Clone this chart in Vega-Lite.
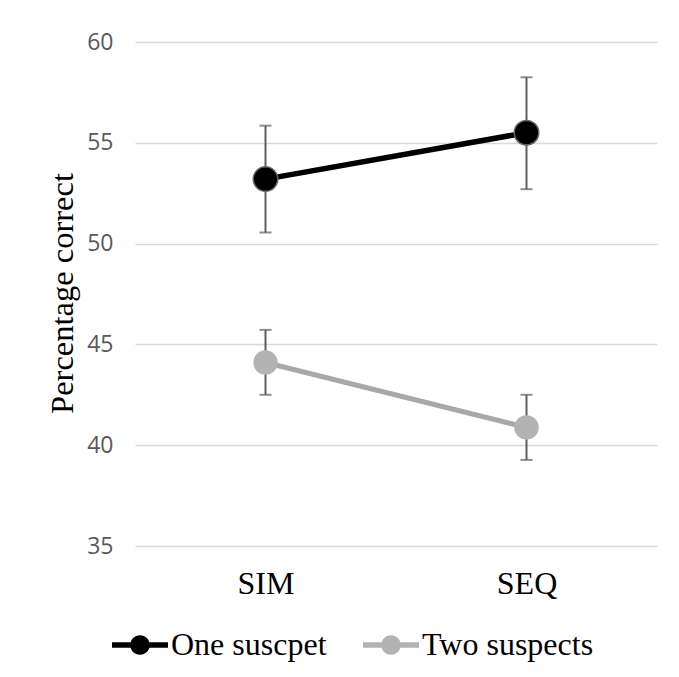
{
  "$schema": "https://vega.github.io/schema/vega-lite/v6.json",
  "width": 522,
  "height": 504,
  "autosize": {"type": "none"},
  "padding": {"left": 135, "top": 42, "right": 22, "bottom": 131},
  "background": "white",
  "config": {"view": {"stroke": null}},
  "data": {
    "values": [
      {"cond": "SIM", "series": "One suscpet", "mean": 53.2, "lo": 50.55, "hi": 55.85},
      {"cond": "SEQ", "series": "One suscpet", "mean": 55.5, "lo": 52.7, "hi": 58.25},
      {"cond": "SIM", "series": "Two suspects", "mean": 44.1, "lo": 42.5, "hi": 45.72},
      {"cond": "SEQ", "series": "Two suspects", "mean": 40.88, "lo": 39.27, "hi": 42.5}
    ]
  },
  "encoding": {
    "x": {
      "field": "cond",
      "type": "nominal",
      "sort": ["SIM", "SEQ"],
      "scale": {"type": "point", "padding": 0.5},
      "axis": {
        "title": null,
        "labelAngle": 0,
        "domain": false,
        "ticks": false,
        "tickSize": 0,
        "grid": false,
        "labelPadding": 22,
        "labelFont": "Liberation Serif",
        "labelFontSize": 32,
        "labelColor": "#000000"
      }
    }
  },
  "layer": [
    {
      "mark": {"type": "rule", "color": "#5f5f5f", "strokeWidth": 2},
      "encoding": {
        "y": {
          "field": "lo",
          "type": "quantitative",
          "scale": {"domain": [35, 60], "nice": false, "zero": false},
          "axis": {
            "values": [35, 40, 45, 50, 55, 60],
            "title": "Percentage correct",
            "titleFont": "Liberation Serif",
            "titleFontSize": 32.5,
            "titleFontWeight": "normal",
            "titleColor": "#000000",
            "titleAngle": 270,
            "titleAlign": "center",
            "titleBaseline": "alphabetic",
            "titleX": -63,
            "titleY": 251,
            "domain": false,
            "ticks": false,
            "tickSize": 0,
            "grid": true,
            "gridColor": "#d9d9d9",
            "gridWidth": 1.5,
            "labelPadding": 22,
            "labelFont": "Open Sans",
            "labelFontSize": 23,
            "labelColor": "#595959"
          }
        },
        "y2": {"field": "hi"}
      }
    },
    {
      "mark": {"type": "tick", "color": "#5f5f5f", "thickness": 2, "size": 12, "orient": "horizontal"},
      "encoding": {"y": {"field": "lo", "type": "quantitative"}}
    },
    {
      "mark": {"type": "tick", "color": "#5f5f5f", "thickness": 2, "size": 12, "orient": "horizontal"},
      "encoding": {"y": {"field": "hi", "type": "quantitative"}}
    },
    {
      "transform": [{"filter": "datum.series === 'One suscpet'"}],
      "mark": {"type": "line", "strokeWidth": 5.5, "color": "#000000"},
      "encoding": {"y": {"field": "mean", "type": "quantitative"}}
    },
    {
      "transform": [{"filter": "datum.series === 'Two suspects'"}],
      "mark": {"type": "line", "strokeWidth": 5, "color": "#aba7a7"},
      "encoding": {"y": {"field": "mean", "type": "quantitative"}}
    },
    {
      "transform": [{"filter": "datum.series === 'Two suspects'"}],
      "mark": {"type": "point", "filled": true, "size": 600, "opacity": 1, "strokeWidth": 0},
      "encoding": {
        "y": {"field": "mean", "type": "quantitative"},
        "fill": {
          "field": "series",
          "type": "nominal",
          "scale": {"domain": ["One suscpet", "Two suspects"], "range": ["#000000", "#b3b3b3"]},
          "legend": {
            "title": null,
            "orient": "none",
            "direction": "horizontal",
            "legendX": -23,
            "legendY": 575,
            "padding": 0,
            "symbolType": "M-1,-0.1L1,-0.1L1,0.1L-1,0.1Z M0.35,0A0.35,0.35,0,1,1,-0.35,0A0.35,0.35,0,1,1,0.35,0Z",
            "symbolSize": 3136,
            "symbolStrokeWidth": 0,
            "symbolOpacity": 1,
            "labelOffset": 3,
            "columnPadding": 36,
            "labelFont": "Liberation Serif",
            "labelFontSize": 32,
            "labelColor": "#000000",
            "labelLimit": 400
          }
        }
      }
    },
    {
      "transform": [{"filter": "datum.series === 'One suscpet'"}],
      "mark": {"type": "point", "filled": true, "size": 600, "opacity": 1, "stroke": "#666666", "strokeWidth": 1.5},
      "encoding": {
        "y": {"field": "mean", "type": "quantitative"},
        "fill": {"field": "series", "type": "nominal"}
      }
    }
  ]
}
